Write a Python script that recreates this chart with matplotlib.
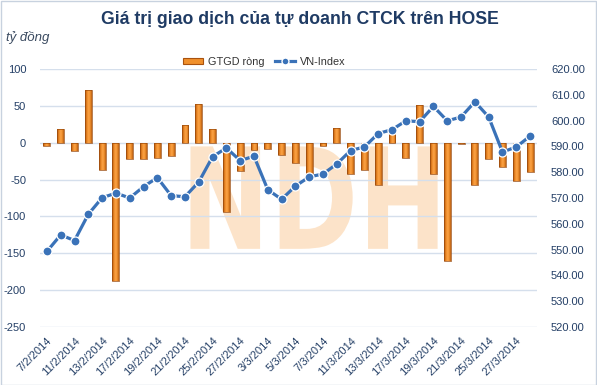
"""Net proprietary trading value of securities firms on HOSE vs VN-Index."""

import matplotlib

matplotlib.use("Agg")

import matplotlib.pyplot as plt
import numpy as np
from matplotlib.colors import LinearSegmentedColormap
from matplotlib.font_manager import FontProperties
from matplotlib.lines import Line2D
from matplotlib.patches import PathPatch, Rectangle
from matplotlib.path import Path
from matplotlib.textpath import TextPath
from matplotlib.transforms import Affine2D


DATES = [
    "7/2/2014", "10/2/2014", "11/2/2014", "12/2/2014", "13/2/2014", "14/2/2014",
    "17/2/2014", "18/2/2014", "19/2/2014", "20/2/2014", "21/2/2014", "24/2/2014",
    "25/2/2014", "26/2/2014", "27/2/2014", "28/2/2014", "3/3/2014", "4/3/2014",
    "5/3/2014", "6/3/2014", "7/3/2014", "10/3/2014", "11/3/2014", "12/3/2014",
    "13/3/2014", "14/3/2014", "17/3/2014", "18/3/2014", "19/3/2014", "20/3/2014",
    "21/3/2014", "24/3/2014", "25/3/2014", "26/3/2014", "27/3/2014", "28/3/2014",
]
GTGD = [
    -5, 19, -11, 71, -37, -187, -22, -22, -21, -18,
    24, 53, 18, -94, -39, -10, -8, -17, -28, -42,
    -5, 20, -42, -37, -57, 16, -21, 51, -43, -160,
    -2, -58, -22, -33, -52, -40,
]
VNINDEX = [
    549.3, 555.7, 553.5, 563.7, 570.1, 571.9, 570.0, 574.4, 577.9, 570.9,
    570.5, 576.2, 586.0, 589.4, 584.5, 586.2, 573.2, 569.5, 574.6, 578.2,
    579.3, 583.2, 588.4, 589.8, 595.0, 596.5, 599.9, 599.6, 605.5, 599.9,
    601.4, 607.3, 601.4, 587.8, 589.8, 594.0,
]
LEFT_TICKS = [100, 50, 0, -50, -100, -150, -200, -250]
RIGHT_TICKS = [620, 610, 600, 590, 580, 570, 560, 550, 540, 530, 520]

TXT = "#243F66"
GRID = "#D5DFEC"
LINE_C = "#3A72B8"
FONT = ["Liberation Sans", "DejaVu Sans"]

plt.rcParams["font.family"] = FONT

W, H = 597, 385
fig = plt.figure(figsize=(W / 100, H / 100), dpi=100)
ax = fig.add_axes([40 / W, 58 / H, 497 / W, 258 / H])
ax2 = ax.twinx()

x = np.arange(len(GTGD))

# watermark: heavy letters squeezed into a box behind the bars
tp = TextPath((0, 0), "NDH", size=1, prop=FontProperties(family="DejaVu Sans", weight="bold"))
keep = tp.codes != Path.CLOSEPOLY
vx, vy = tp.vertices[keep, 0], tp.vertices[keep, 1]
box = (10.4, 28.3, -144, -5)  # x0, x1, y0, y1 in data units
tr = (Affine2D().translate(-vx.min(), -vy.min())
      .scale((box[1] - box[0]) / (vx.max() - vx.min()), (box[3] - box[2]) / (vy.max() - vy.min()))
      .translate(box[0], box[2]))
ax.add_patch(PathPatch(tr.transform_path(tp), facecolor="#FCD8B2", edgecolor="none",
                       alpha=0.7, zorder=0.5))

# gradient bars
cmap = LinearSegmentedColormap.from_list(
    "bar", ["#A9520E", "#E8821E", "#FBA54A", "#F3922E", "#B45A10"]
)
grad = np.linspace(0, 1, 64).reshape(1, -1)
bw = 0.5
for xi, v in zip(x, GTGD):
    y0, y1 = (0, v) if v >= 0 else (v, 0)
    rect = Rectangle((xi - bw / 2, y0), bw, y1 - y0, facecolor="none", edgecolor="none")
    ax.add_patch(rect)
    im = ax.imshow(
        grad, extent=[xi - bw / 2, xi + bw / 2, y0, y1], aspect="auto",
        cmap=cmap, zorder=3, interpolation="bicubic",
    )
    im.set_clip_path(rect)
    ax.add_patch(Rectangle((xi - bw / 2, y0), bw, y1 - y0, facecolor="none",
                           edgecolor="#9A4A0C", linewidth=0.5, zorder=3.1))

ax.set_xlim(-0.5, len(GTGD) - 0.5)
ax.set_ylim(-250, 100)
ax.set_yticks(LEFT_TICKS)
ax.set_yticklabels([str(t) for t in LEFT_TICKS])
ax.grid(axis="y", color=GRID, linewidth=1.0, zorder=1)
ax.set_axisbelow(True)

ax2.plot(x, VNINDEX, color=LINE_C, linewidth=2.3, marker="o", markersize=6.5,
         markerfacecolor=LINE_C, markeredgecolor="white", markeredgewidth=0.9, zorder=5)
ax2.set_ylim(520, 620)
ax2.set_yticks(RIGHT_TICKS)
ax2.set_yticklabels([f"{t:.2f}" for t in RIGHT_TICKS])

ax.set_xticks(x[::2])
ax.set_xticklabels(DATES[::2], rotation=45, ha="right", rotation_mode="anchor")

for a in (ax, ax2):
    for s in a.spines.values():
        s.set_visible(False)
    a.tick_params(length=0, colors=TXT, labelsize=8)
ax.tick_params(axis="y", pad=10)
ax2.tick_params(axis="y", pad=10)
ax.tick_params(axis="x", pad=6)

fig.text(0.503, 1 - 20 / H, "Giá trị giao dịch của tự doanh CTCK trên HOSE",
         ha="center", va="center", fontsize=12.7, fontweight="bold", color="#1F3B64")
fig.text(6 / W, 1 - 38 / H, "tỷ đồng", ha="left", va="center", fontsize=9.5,
         style="italic", color="#3A4A60")

handles = [
    Rectangle((0, 0), 1, 1, facecolor="#F0902C", edgecolor="#A9520E", linewidth=0.8),
    Line2D([0], [0], color=LINE_C, linewidth=2.3, marker="o", markersize=5,
           markerfacecolor=LINE_C, markeredgecolor="white"),
]
fig.legend(handles, ["GTGD ròng", "VN-Index"], loc="center", bbox_to_anchor=(264 / W, 1 - 62 / H),
           ncol=2, frameon=False, fontsize=7.8, handlelength=1.9, handleheight=0.55,
           columnspacing=1.0, handletextpad=0.4, labelcolor="#333333")

fig.add_artist(Rectangle((0.5 / W, 0.5 / H), 1 - 1.5 / W, 1 - 1.5 / H, transform=fig.transFigure,
                         fill=False, edgecolor="#C8D2DF", linewidth=1.0))

fig.savefig("out.png", dpi=100, facecolor="white")
plt.close(fig)
